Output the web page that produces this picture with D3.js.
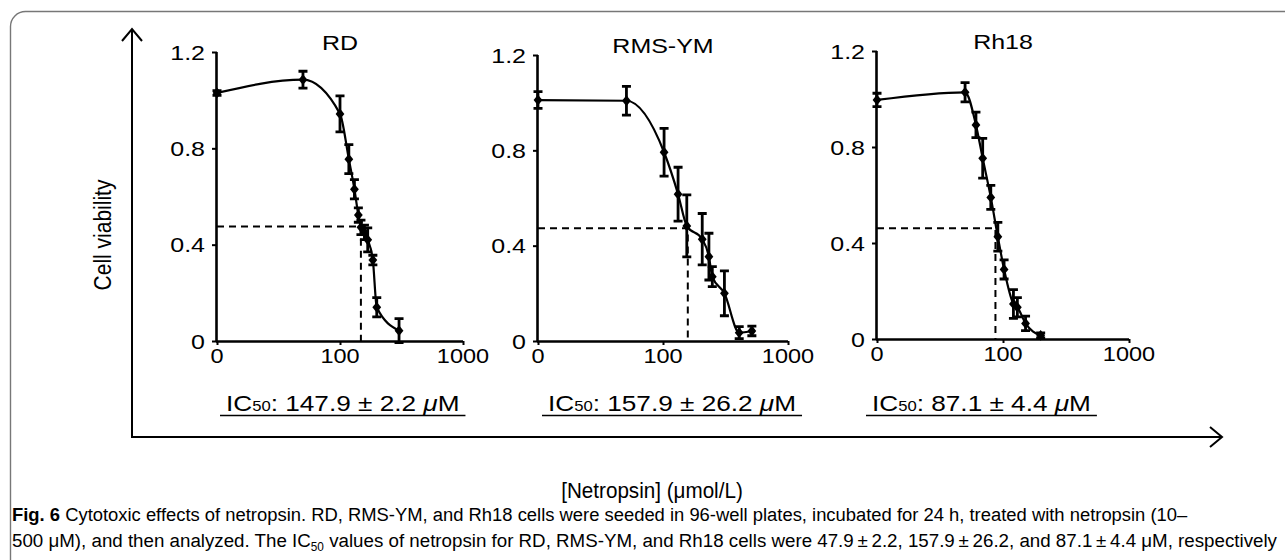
<!DOCTYPE html>
<html><head><meta charset="utf-8">
<script src="https://cdn.jsdelivr.net/npm/d3@7"></script>
<style>
body{margin:0;background:#fff}
svg{display:block}
text{font-family:"Liberation Sans",Arial,Helvetica,sans-serif;fill:#000}
</style>
</head><body>
<svg id="c" width="1285" height="560"></svg>
<script>
// ---------- data ----------
const panelNames = ["RD", "RMS-YM", "Rh18"];
const xTickValues = [10, 100, 1000];
const xTickLabels = ["0", "100", "1000"];
const yTickValues = [0, 0.4, 0.8, 1.2];
const yTickLabels = ["0", "0.4", "0.8", "1.2"];

const rdConc = [10, 50, 100, 118, 131, 141, 148, 158, 168, 185, 199, 302];
const rdViab = [1.03, 1.085, 0.943, 0.755, 0.63, 0.523, 0.472, 0.451, 0.42, 0.336, 0.14, 0.043];
const rdErr  = [0.01, 0.035, 0.075, 0.06, 0.04, 0.03, 0.03, 0.03, 0.05, 0.02, 0.04, 0.05];

const rmsConc = [10, 51, 102, 132, 155, 206, 233, 248, 310, 407, 514];
const rmsViab = [1.011, 1.008, 0.792, 0.616, 0.483, 0.427, 0.354, 0.27, 0.2, 0.035, 0.042];
const rmsErr  = [0.035, 0.06, 0.1, 0.113, 0.13, 0.108, 0.098, 0.042, 0.094, 0.025, 0.02];

const rh18Conc = [10, 50, 61, 69, 80, 91, 102, 121, 130, 151, 199];
const rh18Viab = [0.996, 1.028, 0.892, 0.753, 0.59, 0.426, 0.29, 0.146, 0.132, 0.065, 0.015];
const rh18Err  = [0.028, 0.04, 0.053, 0.083, 0.05, 0.06, 0.04, 0.06, 0.04, 0.03, 0.01];

const ic50Values = [147.9, 157.9, 87.1];
const ic50Errors = ["2.2", "26.2", "4.4"];
const ic50Level  = [0.475, 0.473, 0.461];

const xAxisTitle = "[Netropsin] (\u03bcmol/L)";
const yAxisTitle = "Cell viability";
const captionBold = "Fig. 6";
const captionLine1 = "  Cytotoxic effects of netropsin. RD, RMS-YM, and Rh18 cells were seeded in 96-well plates, incubated for 24 h, treated with netropsin (10\u2013";
const captionLine2a = "500 \u03bcM), and then analyzed. The IC";
const captionLine2b = " values of netropsin for RD, RMS-YM, and Rh18 cells were 47.9\u2009\u00b1\u20092.2, 157.9\u2009\u00b1\u200926.2, and 87.1\u2009\u00b1\u20094.4 \u03bcM, respectively";

// ---------- layout ----------
const series = [
  {conc: rdConc, viab: rdViab, err: rdErr},
  {conc: rmsConc, viab: rmsViab, err: rmsErr},
  {conc: rh18Conc, viab: rh18Viab, err: rh18Err}
];
const layout = [
  {x0: 217, x1: 463, yTop: 52, yBot: 341, icX: 226},
  {x0: 538, x1: 788, yTop: 55, yBot: 341, icX: 548},
  {x0: 877, x1: 1129, yTop: 51, yBot: 339, icX: 872}
];
const SX = 1.19; // horizontal stretch of the original lettering

const svg = d3.select("#c");

// frame
svg.append("rect").attr("x", 10.5).attr("y", 11.5).attr("width", 1300).attr("height", 600)
  .attr("rx", 15).attr("fill", "none").attr("stroke", "#777").attr("stroke-width", 1.4);

function stext(g, x, y, str, anchor, size, sx) {
  return g.append("text")
    .attr("transform", `translate(${x},${y}) scale(${sx || SX},1)`)
    .attr("text-anchor", anchor || "start")
    .attr("font-size", size || 21)
    .text(str);
}

// big axes arrows
const ax = svg.append("g").attr("stroke", "#000").attr("stroke-width", 2).attr("fill", "none");
ax.append("path").attr("d", "M132,438 V29");
ax.append("path").attr("d", "M122,41 L132,29 L142,41");
ax.append("path").attr("d", "M131,437 H1222");
ax.append("path").attr("d", "M1210,427 L1222,437 L1210,447");

// y axis title
svg.append("text")
  .attr("transform", "translate(111,235) rotate(-90) scale(1,1.15)")
  .attr("text-anchor", "middle").attr("font-size", 21).text(yAxisTitle);

// x axis title
stext(svg, 652, 498, xAxisTitle, "middle", 21.5, 0.96);

const diamond = {
  draw(ctx, size) {
    const w = 4.4, h = 5.4;
    ctx.moveTo(0, -h); ctx.lineTo(w, 0); ctx.lineTo(0, h); ctx.lineTo(-w, 0); ctx.closePath();
  }
};

series.forEach((s, i) => {
  const L = layout[i];
  const x = d3.scaleLog().domain([10, 1000]).range([L.x0, L.x1]);
  const y = d3.scaleLinear().domain([0, 1.2]).range([L.yBot, L.yTop]);
  const g = svg.append("g");
  const pts = s.conc.map((c, k) => ({c, v: s.viab[k], e: s.err[k]}));

  // y axis
  const yAx = g.append("g").attr("transform", `translate(${L.x0},0)`)
    .call(d3.axisLeft(y).tickValues(yTickValues).tickSize(5).tickFormat(() => ""));
  yAx.select(".domain").attr("d", `M-0.5,${L.yBot}V${L.yTop}`).attr("stroke-width", 2.6);
  yAx.selectAll(".tick line").attr("stroke-width", 2);
  yTickValues.forEach((v, k) => stext(g, L.x0 - 12, y(v) + 7.5, yTickLabels[k], "end", 21));

  // x axis
  const xAx = g.append("g").attr("transform", `translate(0,${L.yBot})`)
    .call(d3.axisBottom(x).tickValues(xTickValues).tickSize(4).tickFormat(() => ""));
  xAx.select(".domain").attr("d", `M${L.x0 - 1},0.5H${L.x1}`).attr("stroke-width", 2.6);
  xAx.selectAll(".tick line").attr("stroke-width", 2);
  xTickValues.forEach((v, k) => stext(g, x(v), L.yBot + 22, xTickLabels[k], "middle", 21, 1.12));

  // title
  stext(g, (L.x0 + L.x1) / 2, L.yTop - 2, panelNames[i], "middle", 21);

  // IC50 dashed guide lines
  const ic = ic50Values[i];
  g.append("path")
    .attr("d", `M${L.x0},${y(ic50Level[i])}H${x(ic)}V${L.yBot}`)
    .attr("fill", "none").attr("stroke", "#000").attr("stroke-width", 2)
    .attr("stroke-dasharray", "7,5");

  // curve
  const line = d3.line().x(d => x(d.c)).y(d => y(d.v)).curve(d3.curveMonotoneX);
  g.append("path").datum(pts).attr("d", line)
    .attr("fill", "none").attr("stroke", "#000").attr("stroke-width", 2.2);

  // error bars
  const eb = g.append("g").attr("stroke", "#000").attr("stroke-width", 2.8).attr("fill", "none");
  pts.forEach(p => {
    const cx = x(p.c), ya = y(p.v + p.e), yb = y(p.v - p.e);
    eb.append("path").attr("d", `M${cx},${ya}V${yb}M${cx - 4.5},${ya}H${cx + 4.5}M${cx - 4.5},${yb}H${cx + 4.5}`);
  });

  // markers
  g.selectAll(".mk").data(pts).join("path").attr("class", "mk")
    .attr("transform", d => `translate(${x(d.c)},${y(d.v)})`)
    .attr("d", d3.symbol().type(diamond)())
    .attr("fill", "#000");

  // IC50 label
  const t = g.append("text")
    .attr("transform", `translate(${L.icX},411) scale(${SX},1)`)
    .attr("font-size", 22);
  t.append("tspan").text("IC");
  t.append("tspan").attr("font-size", 14).text("50");
  t.append("tspan").text(`: ${ic} \u00b1 ${ic50Errors[i]} `);
  t.append("tspan").attr("font-style", "italic").text("\u03bc");
  t.append("tspan").text("M");
  const w = t.node().getBBox().width * SX;
  g.append("path").attr("d", `M${L.icX - 6},415.5H${L.icX + w + 6}`)
    .attr("stroke", "#000").attr("stroke-width", 1.6);
});

// caption
function fit(textSel, x, y, target) {
  const w = textSel.node().getBBox().width;
  textSel.attr("transform", `translate(${x},${y}) scale(${target / w},1)`);
}
const c1 = svg.append("text").attr("font-size", 19);
c1.append("tspan").attr("font-weight", "bold").text(captionBold);
c1.append("tspan").text(captionLine1);
fit(c1, 12, 521, 1177);

const c2 = svg.append("text").attr("font-size", 19);
c2.append("tspan").text(captionLine2a);
c2.append("tspan").attr("font-size", 12).attr("dy", 4).text("50");
c2.append("tspan").attr("dy", -4).text(captionLine2b);
fit(c2, 12, 547, 1266);
</script>
</body></html>
